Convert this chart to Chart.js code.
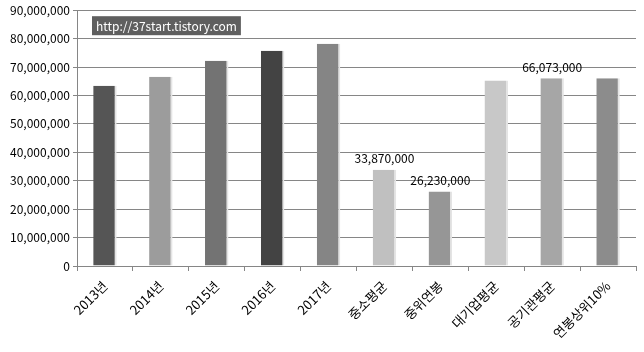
<!DOCTYPE html>
<html>
<head>
<meta charset="utf-8">
<script src="https://cdn.jsdelivr.net/npm/chart.js@4"></script>
<style>
  body { margin: 0; background: #fff; }
  #wrap { width: 644px; height: 352px; }
</style>
</head>
<body>
<div id="wrap"><canvas id="salary"></canvas></div>
<script>
var categories = ['2013년', '2014년', '2015년', '2016년', '2017년', '중소평균', '중위연봉', '대기업평균', '공기관평균', '연봉상위10%'];
var salaries = [63400000, 66600000, 72200000, 75700000, 78200000, 33870000, 26230000, 65300000, 66073000, 66100000];
var barColors = ['#555555', '#9c9c9c', '#737373', '#434343', '#858585', '#c0c0c0', '#969696', '#c8c8c8', '#a6a6a6', '#8c8c8c'];
var labelledBars = [5, 6, 8];
var yTicks = [0, 10000000, 20000000, 30000000, 40000000, 50000000, 60000000, 70000000, 80000000, 90000000];
var watermark = 'http://37start.tistory.com';

var FONT = "'Noto Sans CJK KR', 'Noto Sans', sans-serif";

function fmt(v) {
  return v.toString().replace(/\B(?=(\d{3})+(?!\d))/g, ',');
}

var extras = {
  id: 'extras',
  afterDatasetsDraw: function(chart) {
    var ctx = chart.ctx;
    var meta = chart.getDatasetMeta(0);
    ctx.save();
    ctx.font = '12px ' + FONT;
    ctx.fillStyle = '#000';
    ctx.textAlign = 'center';
    ctx.textBaseline = 'bottom';
    labelledBars.forEach(function(i) {
      var bar = meta.data[i];
      ctx.fillText(fmt(salaries[i]), bar.x, bar.y - 5);
    });
    // watermark box
    var a = chart.chartArea;
    ctx.font = '12px ' + FONT;
    var w = ctx.measureText(watermark).width;
    ctx.fillStyle = '#5f5f5f';
    ctx.fillRect(a.left + 15, a.top + 6, w + 8, 19);
    ctx.fillStyle = '#fff';
    ctx.textAlign = 'left';
    ctx.textBaseline = 'middle';
    ctx.fillText(watermark, a.left + 19, a.top + 16);
    ctx.restore();
  }
};

function drawChart() {
  var ctx = document.getElementById('salary').getContext('2d');
  new Chart(ctx, {
    type: 'bar',
    data: {
      labels: categories,
      datasets: [{
        label: '연봉',
        data: salaries,
        backgroundColor: barColors,
        borderColor: '#e4e4e4',
        borderWidth: { left: 0, right: 2, top: 0, bottom: 0 },
        barPercentage: 0.42,
        categoryPercentage: 1
      }]
    },
    options: {
      responsive: true,
      maintainAspectRatio: false,
      animation: false,
      layout: { padding: { top: 4, right: 8, left: 2, bottom: 2 } },
      plugins: {
        legend: { display: false },
        tooltip: { enabled: false }
      },
      scales: {
        x: {
          afterFit: function(axis) { axis.height = 84; },
          grid: { display: true, drawOnChartArea: false, drawTicks: true, tickLength: 5, color: '#868686' },
          border: { color: '#868686' },
          ticks: {
            font: { family: FONT, size: 13 },
            color: '#000',
            padding: 7,
            maxRotation: 45,
            minRotation: 45,
            autoSkip: false
          }
        },
        y: {
          min: 0,
          max: 90000000,
          afterFit: function(axis) { axis.width = 75; },
          afterBuildTicks: function(axis) {
            axis.ticks = yTicks.map(function(v) { return { value: v }; });
          },
          grid: { color: '#868686', tickLength: 4 },
          border: { color: '#868686' },
          ticks: {
            font: { family: FONT, size: 12 },
            color: '#000',
            padding: 3,
            callback: function(v) { return fmt(v); }
          }
        }
      }
    },
    plugins: [extras]
  });
}

drawChart();
</script>
</body>
</html>
